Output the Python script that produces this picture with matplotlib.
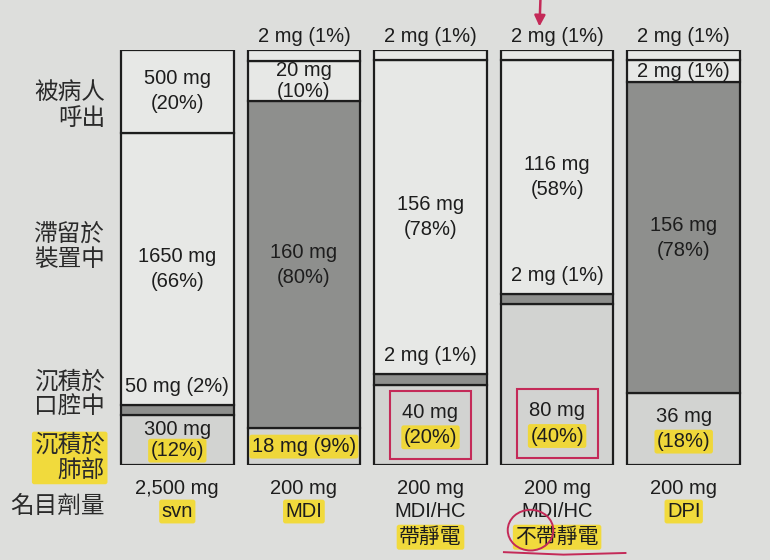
import matplotlib
matplotlib.use('Agg')
import matplotlib.pyplot as plt
import matplotlib.transforms as mtransforms
from matplotlib.patches import Ellipse, Rectangle
import numpy as np

FONTS = ['Liberation Sans', 'Noto Sans CJK TC', 'DejaVu Sans']
plt.rcParams['font.family'] = FONTS

# ---------------- data ----------------
nominal_dose = ['2,500 mg', '200 mg', '200 mg', '200 mg', '200 mg']
devices = ['svn', 'MDI', 'MDI/HC', 'MDI/HC', 'DPI']
static_notes = ['', '', '帶靜電', '不帶靜電', '']
# row categories, bottom to top
categories = ['沉積於\n肺部', '沉積於\n口腔中', '滯留於\n裝置中', '被病人\n呼出']
nominal_label = '名目劑量'

lung_mg = [300, 18, 40, 80, 36]
lung_pct = [12, 9, 20, 40, 18]
oral_mg = [50, 160, 2, 2, 156]
oral_pct = [2, 80, 1, 1, 78]
device_mg = [1650, 20, 156, 116, 2]
device_pct = [66, 10, 78, 58, 1]
exhaled_mg = [500, 2, 2, 2, 2]
exhaled_pct = [20, 1, 1, 1, 1]

pct = np.array([lung_pct, oral_pct, device_pct, exhaled_pct], dtype=float)
mg = np.array([lung_mg, oral_mg, device_mg, exhaled_mg])

# schematic drawing: thin bands get a minimum visible height, then each bar is scaled to 100
MIN_SHOWN = np.array([2.6, 2.6, 5.5, 2.6])[:, None]
shown = np.maximum(pct, MIN_SHOWN)
shown = shown / shown.sum(axis=0) * 100

# ---------------- style ----------------
BG = '#dddedc'
seg_colors = ['#d2d3d1', '#8e8f8d', '#e7e8e6', '#e7e8e6']
INK = '#1d1d1d'
HL = (0.97, 0.85, 0.08, 0.80)
RED = '#c42a58'
FS = 14.5

fig = plt.figure(figsize=(7.7, 5.6), dpi=100, facecolor=BG)
ax = fig.add_axes([114 / 770, 95 / 560, 633 / 770, 415 / 560])
ax.set_xlim(-0.5, 4.5)
ax.set_ylim(0, 100)
ax.axis('off')

x = np.arange(len(devices))
bottoms = np.zeros(len(devices))
seg_bottoms = []
for k in range(4):
    seg_bottoms.append(bottoms.copy())
    ax.bar(x, shown[k], bottom=bottoms, width=0.89, color=seg_colors[k],
           edgecolor=INK, linewidth=1.6, zorder=2)
    bottoms = bottoms + shown[k]
seg_bottoms = np.array(seg_bottoms)


def hlbox(pad=0.12):
    return dict(boxstyle=f'round,pad={pad}', fc=HL, ec='none')


def put(xi, y, text, dy=0, hl=False, fs=FS, **kw):
    ax.annotate(text, (xi, y), xytext=(0, dy), textcoords='offset points',
                ha='center', va='center', fontsize=fs, color=INK, zorder=6,
                annotation_clip=False, bbox=hlbox() if hl else None, **kw)


for i in range(len(devices)):
    for k in range(4):
        b = seg_bottoms[k, i]
        h = shown[k, i]
        mg_t = f'{mg[k, i]} mg'
        pc_t = f'({pct[k, i]:g}%)'
        if h < 5 and k == 3:
            # thin top band: label above the bar
            put(i, b + h, f'{mg_t} {pc_t}', dy=10)
        elif h < 5 and k == 1:
            # thin oral band: label just above the band
            put(i, b + h + 4.5, f'{mg_t} {pc_t}')
        elif h < 9.5:
            yc = b + h / 2
            put(i, yc, f'{mg_t} {pc_t}', hl=(k == 0))
        else:
            yc = b + h / 2
            gap = 7.5 if h < 12 else 9
            if k == 0:
                yc = min(yc, 10)
            put(i, yc, mg_t, dy=gap)
            put(i, yc, pc_t, dy=-gap, hl=(k == 0))
            if k == 0 and static_notes[i]:
                # red pen frame around the lung value
                ax.add_patch(Rectangle((i - 0.32, yc - 8.2), 0.64, 16.4, fill=False,
                                       ec=RED, lw=1.5, clip_on=False, zorder=7))

# category labels under bars
for i in range(len(devices)):
    put(i, 0, nominal_dose[i], dy=-17)
    put(i, 0, devices[i], dy=-33.5, hl=(not static_notes[i]))
    if static_notes[i]:
        put(i, 0, static_notes[i], dy=-52, hl=True, fs=15)

# row labels on the left
row_y = [1.7, 16.9, 52.5, 86.5]
trans = mtransforms.blended_transform_factory(ax.transAxes, ax.transData)
for k, lab in enumerate(categories):
    ax.text(-0.014, row_y[k], lab, transform=trans, ha='right', va='center',
            fontsize=17, color='#2a2a2a', linespacing=1.2,
            bbox=hlbox(0.1) if k == 0 else None, clip_on=False)
ax.text(-0.014, -10.1, nominal_label, transform=trans, ha='right', va='center',
        fontsize=17, color='#2a2a2a', clip_on=False)

# red pen marks
ax.annotate('', xy=(2.86, 105.0), xytext=(2.87, 113.5),
            arrowprops=dict(arrowstyle='-|>', color=RED, lw=1.8, mutation_scale=16),
            annotation_clip=False, zorder=7)
ax.add_patch(Ellipse((3 - 0.21, -15.7), 0.36, 9.8, fill=False, ec=RED, lw=1.4,
                     clip_on=False, zorder=7))
ax.plot([3 - 0.42, 3 + 0.05, 3 + 0.54], [-21.0, -21.6, -21.2], color=RED, lw=1.4,
        clip_on=False, zorder=7)

fig.savefig('out.png', dpi=100, facecolor=BG)
